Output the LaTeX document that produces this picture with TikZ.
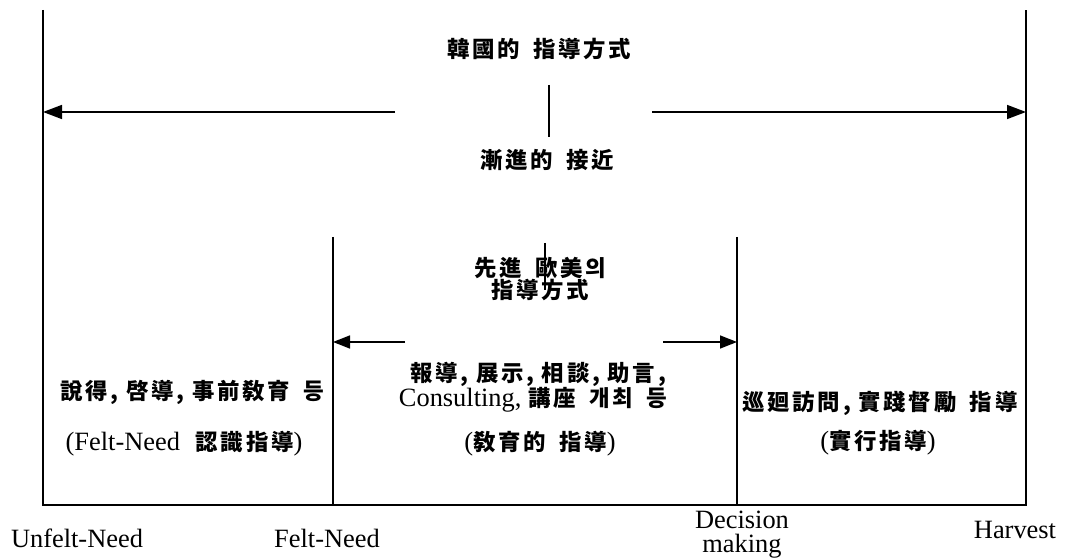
\documentclass[tikz,border=0pt]{standalone}
\usepackage{fontspec}
\setmainfont{Liberation Serif}
\newfontfamily\cjkfont{Noto Sans CJK KR}[LetterSpace=12]
\newcommand\kfontsel{\cjkfont\bfseries\fontsize{22.5}{28}\selectfont}
\newcommand\ktext[1]{{\kfontsel #1}}
\newcommand\ksp{\hspace{0.6em}}
\usetikzlibrary{arrows.meta}
\begin{document}
\begin{tikzpicture}[x=1bp,y=-1bp,
  outer/.style={line width=1.6bp},
  inner/.style={line width=2.6bp},
  thinline/.style={line width=1.1bp},
  arr/.style={line width=1.5bp,-{Triangle[length=19bp,width=14bp]}},
  arrs/.style={line width=1.5bp,-{Triangle[length=17bp,width=13bp]}},
  ktxt/.style={font=\kfontsel, inner sep=0, align=center},
  ltxt/.style={font=\fontsize{26.5}{24}\selectfont, inner sep=0, align=center}]
\useasboundingbox (0,0) rectangle (1090,560);
% frame
\coordinate (UT) at (43,10);
\coordinate (UB) at (43,505);
\coordinate (HT) at (1026,10);
\coordinate (HB) at (1026,505);
\coordinate (FT) at (333,237);
\coordinate (FB) at (333,505);
\coordinate (DT) at (737,237);
\coordinate (DB) at (737,505);
\draw[outer] (UT) -- (UB) -- (HB) -- (HT);
\draw[inner] (FT) -- (FB);
\draw[inner] (DT) -- (DB);
% top arrows
\coordinate (UA) at (43,112);
\coordinate (HA) at (1026,112);
\coordinate (a1) at (395,112);
\coordinate (a2) at (652,112);
\draw[arr] (a1) -- (UA);
\draw[arr] (a2) -- (HA);
\coordinate (m1) at (549,85);
\coordinate (m2) at (549,137);
\draw[thinline] (m1) -- (m2);
% inner arrows
\coordinate (FA) at (333,342);
\coordinate (DA) at (737,342);
\coordinate (b1) at (405,342);
\coordinate (b2) at (663,342);
\draw[arrs] (b1) -- (FA);
\draw[arrs] (b2) -- (DA);
\coordinate (c1) at (545,243);
\coordinate (c2) at (545,290);
% texts
\node[ktxt] (title) at (539,49) {韓國的\ksp 指導方式};
\node[ktxt] (appr) at (547,160) {漸進的\ksp 接近};
\node[ktxt] (adv) at (540,279) {先進\ksp 歐美의\\[-6bp]指導方式};
\draw[thinline] (c1) -- (c2);
\node[ktxt] (l1) at (192,392) {說得, 啓導, 事前敎育\ksp 등};
\node[ltxt] (l2) at (184,444) {(Felt-Need\ksp\ktext{認識指導})};
\node[ktxt] (m1t) at (538,374) {報導, 展示, 相談, 助言,};
\node[ltxt] (m2t) at (533,400) {Consulting, \ktext{講座\ksp 개최\ksp 등}};
\node[ltxt] (m3t) at (540,444) {(\ktext{敎育的\ksp 指導})};
\node[ktxt] (r1) at (880,403) {巡廻訪問, 實踐督勵\ksp 指導};
\node[ltxt] (r2) at (878,443) {(\ktext{實行指導})};
% bottom labels
\node[ltxt] (unfelt) at (77,538) {Unfelt-Need};
\node[ltxt] (felt) at (327,538) {Felt-Need};
\node[ltxt] (dec) at (742,535) {Decision\\making};
\node[ltxt] (harv) at (1015,530) {Harvest};
\end{tikzpicture}
\end{document}
